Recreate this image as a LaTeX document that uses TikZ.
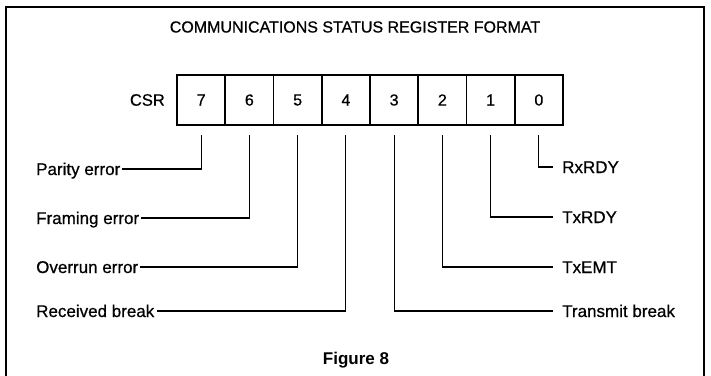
\documentclass[tikz,border=0pt]{standalone}
\usepackage{fontspec}
\setmainfont{Liberation Sans}
\newfontfamily\medfont{Liberation Sans}[FakeBold=0.6]
\begin{document}
\begin{tikzpicture}[x=1pt,y=-1pt,
  bitbox/.style={draw,line width=1.7pt,minimum width=48.25pt,minimum height=50pt,inner sep=0pt,font=\medfont\fontsize{16}{18}\selectfont},
  lbl/.style={inner sep=2pt,text height=12pt,text depth=0pt,font=\medfont\fontsize{17}{19}\selectfont},
  conn/.style={line width=1.2pt},
  frame/.style={line width=1.5pt}]
\useasboundingbox (0,0) rectangle (711,375);
\clip (0,0) rectangle (711,375);
\draw[frame] (6,390) -- (6,7) -- (704,7) -- (704,390);
\node[font=\medfont\fontsize{16}{18}\selectfont] (title) at (355,27) {COMMUNICATIONS STATUS REGISTER FORMAT};
\node[font=\medfont\fontsize{16.5}{18}\selectfont,anchor=east,inner sep=0pt] (csr) at (165,100) {CSR};
\foreach \i in {7,...,0}{
  \node[bitbox] (b\i) at ({177+48.25*(7-\i)+24.125},100) {\i};
}
\node[lbl,anchor=west] (parity) at (34,169) {Parity error};
\node[lbl,anchor=west] (framing) at (34,218) {Framing error};
\node[lbl,anchor=west] (overrun) at (34,267) {Overrun error};
\node[lbl,anchor=west] (rbreak) at (34,311) {Received break};
\node[lbl,anchor=west] (rxrdy) at (560,167) {RxRDY};
\node[lbl,anchor=west] (txrdy) at (560,217) {TxRDY};
\node[lbl,anchor=west] (txemt) at (560,267) {TxEMT};
\node[lbl,anchor=west] (tbreak) at (560,311) {Transmit break};
\draw[conn] ([yshift=-9pt]b7.south) |- (parity.east);
\draw[conn] ([yshift=-9pt]b6.south) |- (framing.east);
\draw[conn] ([yshift=-9pt]b5.south) |- (overrun.east);
\draw[conn] ([yshift=-9pt]b4.south) |- (rbreak.east);
\draw[conn,shorten >=7pt] ([yshift=-9pt]b0.south) |- (rxrdy.west);
\draw[conn,shorten >=7pt] ([yshift=-9pt]b1.south) |- (txrdy.west);
\draw[conn,shorten >=7pt] ([yshift=-9pt]b2.south) |- (txemt.west);
\draw[conn,shorten >=7pt] ([yshift=-9pt]b3.south) |- (tbreak.west);
\node[font=\bfseries\fontsize{17}{20}\selectfont] (fig) at (356,360) {Figure 8};
\end{tikzpicture}
\end{document}
